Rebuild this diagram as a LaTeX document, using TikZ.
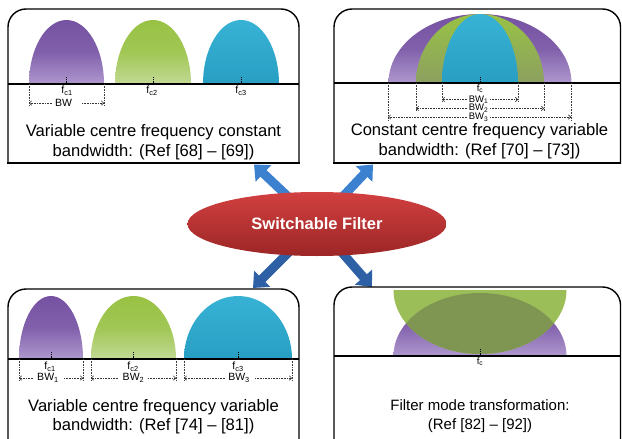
\documentclass[tikz,border=0pt]{standalone}
\usepackage{fontspec}
\setmainfont{Liberation Sans}
\usetikzlibrary{shapes.geometric,arrows.meta}
\pgfdeclarelayer{background}
\pgfsetlayers{background,main}

\definecolor{pTop}{RGB}{118,82,162}
\definecolor{pBot}{RGB}{174,152,206}
\definecolor{gTop}{RGB}{152,194,68}
\definecolor{gBot}{RGB}{194,217,148}
\definecolor{gOlv}{RGB}{140,160,96}
\definecolor{gLt}{RGB}{155,190,88}
\definecolor{gOver}{RGB}{127,150,83}
\definecolor{cTop}{RGB}{55,178,213}
\definecolor{cBot}{RGB}{40,158,195}
\definecolor{arrUp}{RGB}{60,128,208}
\definecolor{arrDn}{RGB}{45,96,165}
\definecolor{redTop}{RGB}{210,64,64}
\definecolor{redBot}{RGB}{156,38,38}

% half-ellipse hump: style, centre x, x radius, base y, height
\newcommand\hump[5]{\shade[#1] (#2-#3,#4) arc[start angle=180,end angle=360,x radius=#3,y radius=#5] -- cycle;}
% panel outline with rounded top corners: name, left, right, top, bottom
\newcommand\panel[5]{%
  \coordinate (#1) at ({(#2+#3)/2},{(#4+#5)/2});
  \draw[panelline] (#2,#5) [rounded corners=18pt] -- (#2,#4) -- (#3,#4) -- (#3,#5);}
% dimension line: left x, right x, y, left tail, right tail, label x, label, name
\newcommand\dimline[8]{%
  \node[dimlab] (#8) at (#6,#3) {#7};
  \draw[dimarrow] (#4,#3) -- (#1,#3);
  \draw[dimarrow] (#5,#3) -- (#2,#3);}

\tikzset{
  bumpP/.style={top color=pTop, bottom color=pBot, middle color=pTop!80!pBot},
  bumpG/.style={top color=gTop, bottom color=gBot, middle color=gTop!80!gBot},
  bumpC/.style={top color=cTop, bottom color=cBot},
  bumpGo/.style={top color=gTop, bottom color=gOlv},
  panelline/.style={line width=1.4pt, black, line cap=rect},
  axisline/.style={line width=1.4pt, black},
  tickmark/.style={densely dotted, line width=0.8pt, black},
  extline/.style={densely dotted, line width=0.6pt, black!75},
  dimarrow/.style={densely dotted, line width=0.6pt, black!80, -{Straight Barb[length=2.2pt,width=4.4pt]}},
  dimlab/.style={inner sep=0pt, font=\fontsize{10.5}{11}\selectfont},
  smalllab/.style={inner sep=0pt, font=\fontsize{9.5}{10}\selectfont},
  caption/.style={align=center, inner sep=0pt},
  bigarrow/.style={line width=9pt, -{Triangle[width=22pt,length=13pt]}},
}

\begin{document}
\begin{tikzpicture}[x=1pt,y=-1pt]
\useasboundingbox (0,0) rectangle (622,439);

% ---------- top left: variable centre, constant bandwidth ----------
\hump{bumpP}{66.5}{37.5}{84}{64}
\hump{bumpG}{153}{38}{84}{64}
\hump{bumpC}{241}{38}{84}{64}
\foreach \cx in {66.5,153,241} \draw[tickmark] (\cx,77) -- (\cx,84);
\draw[axisline] (8,84) -- (299,84);
\foreach \ex in {29,104} \draw[extline] (\ex,84) -- (\ex,106);
\node[dimlab] (fcA) at (67,91) {f\textsubscript{c1}};
\node[dimlab] (fcB) at (152,91) {f\textsubscript{c2}};
\node[dimlab] (fcC) at (241,91) {f\textsubscript{c3}};
\dimline{29}{104}{103}{52}{82}{63.5}{BW}{bwA}
\panel{tl}{8}{299}{9}{163}
\draw[panelline] (8,163) -- (299,163);
\node[caption, font=\fontsize{16.6}{20}\selectfont] (capTL) at (153.5,142.5)
  {Variable centre frequency constant\\bandwidth: (Ref [68] – [69])};

% ---------- top right: constant centre, variable bandwidth ----------
\hump{bumpP}{480}{91.5}{83}{69}
\hump{bumpGo}{480}{64}{83}{69}
\hump{bumpC}{480}{38}{83}{69}
\draw[tickmark] (480,77) -- (480,83);
\draw[axisline] (334,83) -- (620.5,83);
\foreach \ex/\ey in {442/102,518/102,416/111,544/111,388/120,571/120}
  \draw[extline] (\ex,83) -- (\ex,\ey);
\node[smalllab] (fcT) at (480,89) {f\textsubscript{c}};
\tikzset{dimlab/.style={smalllab}}
\dimline{442}{518}{99.5}{467}{490}{478.5}{BW\textsubscript{1}}{bwT1}
\dimline{416}{544}{108.5}{467}{490}{478.5}{BW\textsubscript{2}}{bwT2}
\dimline{388}{571}{117}{467}{490}{478.5}{BW\textsubscript{3}}{bwT3}
\tikzset{dimlab/.style={inner sep=0pt, font=\fontsize{10.5}{11}\selectfont}}
\panel{tr}{334}{620.5}{9}{163}
\draw[panelline] (334,163) -- (620.5,163);
\node[caption, font=\fontsize{16.6}{20}\selectfont] (capTR) at (479.5,141.5)
  {Constant centre frequency variable\\bandwidth: (Ref [70] – [73])};

% ---------- bottom left: variable centre, variable bandwidth ----------
\hump{bumpP}{51}{32}{359}{63}
\hump{bumpG}{133.5}{42.5}{359}{63}
\hump{bumpC}{238}{54}{359}{63}
\foreach \cx in {51,133.5,238} \draw[tickmark] (\cx,352) -- (\cx,359);
\draw[axisline] (8,359) -- (299,359);
\foreach \ex in {19,83,91,176,184,292} \draw[extline] (\ex,359) -- (\ex,381);
\node[dimlab] (fcD) at (50,367) {f\textsubscript{c1}};
\node[dimlab] (fcE) at (133,367) {f\textsubscript{c2}};
\node[dimlab] (fcF) at (238,367) {f\textsubscript{c3}};
\dimline{19}{83}{378}{33}{64}{48}{BW\textsubscript{1}}{bwB1}
\dimline{91}{176}{378}{118}{148}{133.5}{BW\textsubscript{2}}{bwB2}
\dimline{184}{292}{378}{225}{255}{239}{BW\textsubscript{3}}{bwB3}
\panel{bl}{8}{299}{289}{445}
\node[caption, font=\fontsize{16.6}{19.5}\selectfont] (capBL) at (153.5,416.5)
  {Variable centre frequency variable\\bandwidth: (Ref [74] – [81])};

% ---------- bottom right: filter mode transformation ----------
\shade[bumpP] (393.5,356) arc[start angle=180,end angle=360,x radius=86.5,y radius=63] -- cycle;
\fill[gLt] (393.5,290) arc[start angle=180,end angle=0,x radius=86.5,y radius=64] -- cycle;
\begin{scope}
  \clip (393.5,356) arc[start angle=180,end angle=360,x radius=86.5,y radius=63] -- cycle;
  \fill[gOver] (393.5,290) arc[start angle=180,end angle=0,x radius=86.5,y radius=64] -- cycle;
\end{scope}
\draw[tickmark] (480,349) -- (480,356);
\draw[axisline] (334,356) -- (620.5,356);
\node[smalllab] (fcM) at (480,362) {f\textsubscript{c}};
\panel{br}{334}{620.5}{287}{445}
\node[caption, font=\fontsize{15}{19}\selectfont] (capBR) at (480,416.5)
  {Filter mode transformation:\\(Ref [82] – [92])};

% ---------- central hub and arrows ----------
\node[ellipse, minimum width=259pt, minimum height=64pt, inner sep=0pt,
      top color=redTop, bottom color=redBot, text=white,
      font=\bfseries\fontsize{16.5}{18}\selectfont] (sf) at (317,224) {Switchable Filter};
\coordinate (tipTL) at (254,164.5);
\coordinate (tipTR) at (373,164.5);
\coordinate (tipBL) at (253,288);
\coordinate (tipBR) at (372,287);
\begin{pgfonlayer}{background}
  \draw[bigarrow, arrUp] (sf.center) -- (tipTL);
  \draw[bigarrow, arrUp] (sf.center) -- (tipTR);
  \draw[bigarrow, arrDn] (sf.center) -- (tipBL);
  \draw[bigarrow, arrDn] (sf.center) -- (tipBR);
\end{pgfonlayer}
\end{tikzpicture}
\end{document}
